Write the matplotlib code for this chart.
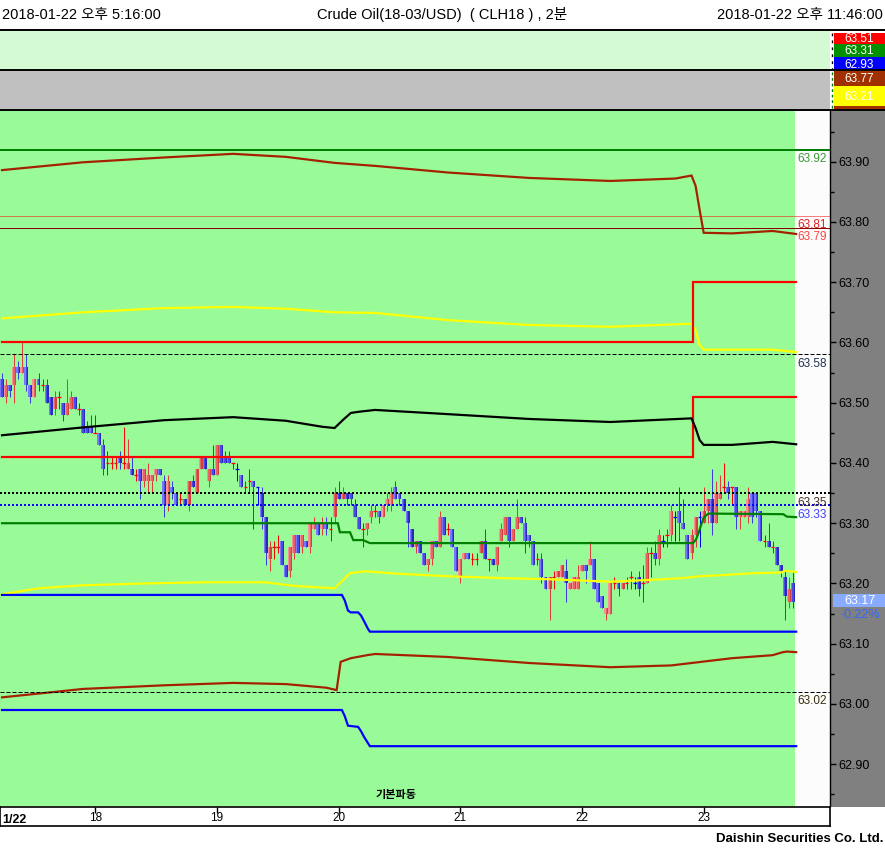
import matplotlib
matplotlib.use('Agg')
import matplotlib.pyplot as plt
from matplotlib.patches import Rectangle
from matplotlib.lines import Line2D

plt.rcParams['font.family'] = ['Liberation Sans', 'Noto Sans CJK KR', 'DejaVu Sans']

# ---------------- data ----------------
opens = [63.54,63.51,63.53,63.53,63.56,63.55,63.56,63.53,63.51,63.54,
         63.53,63.53,63.51,63.49,63.51,63.50,63.48,63.49,63.51,63.49,
         63.49,63.46,63.46,63.45,63.45,63.43,63.40,63.40,63.40,63.41,
         63.40,63.39,63.39,63.38,63.39,63.37,63.37,63.37,63.38,63.39,
         63.37,63.33,63.36,63.35,63.34,63.34,63.33,63.37,63.35,63.39,
         63.41,63.37,63.39,63.38,63.43,63.41,63.41,63.40,63.39,63.38,
         63.36,63.37,63.37,63.36,63.35,63.31,63.24,63.26,63.26,63.27,
         63.23,63.22,63.25,63.28,63.26,63.27,63.26,63.29,63.30,63.29,
         63.30,63.29,63.31,63.35,63.34,63.35,63.35,63.33,63.31,63.29,
         63.29,63.31,63.32,63.32,63.31,63.33,63.33,63.36,63.35,63.34,
         63.32,63.29,63.26,63.27,63.25,63.23,63.24,63.27,63.26,63.31,
         63.29,63.29,63.26,63.21,63.24,63.25,63.24,63.24,63.25,63.27,
         63.24,63.24,63.23,63.27,63.28,63.31,63.27,63.29,63.31,63.30,
         63.28,63.27,63.24,63.24,63.21,63.19,63.21,63.21,63.21,63.22,
         63.19,63.19,63.19,63.22,63.23,63.23,63.24,63.20,63.18,63.15,
         63.15,63.20,63.20,63.19,63.20,63.21,63.20,63.21,63.20,63.20,
         63.25,63.25,63.24,63.27,63.28,63.28,63.31,63.32,63.30,63.28,
         63.25,63.28,63.31,63.30,63.32,63.34,63.30,63.34,63.36,63.36,
         63.36,63.36,63.31,63.31,63.31,63.35,63.35,63.32,63.27,63.27,
         63.26,63.26,63.23,63.21,63.17,63.20]
highs = [63.55,63.54,63.53,63.58,63.57,63.60,63.58,63.53,63.54,63.55,
         63.54,63.54,63.51,63.52,63.52,63.50,63.54,63.52,63.51,63.50,
         63.49,63.47,63.48,63.48,63.45,63.44,63.42,63.41,63.41,63.42,
         63.46,63.44,63.41,63.39,63.39,63.39,63.40,63.38,63.39,63.39,
         63.38,63.38,63.37,63.35,63.35,63.34,63.37,63.38,63.39,63.41,
         63.41,63.39,63.43,63.43,63.43,63.42,63.42,63.40,63.40,63.38,
         63.37,63.39,63.37,63.36,63.36,63.31,63.27,63.27,63.28,63.27,
         63.23,63.26,63.28,63.28,63.28,63.27,63.30,63.31,63.30,63.31,
         63.31,63.31,63.36,63.37,63.36,63.35,63.35,63.34,63.31,63.30,
         63.30,63.33,63.33,63.32,63.33,63.35,63.36,63.37,63.35,63.34,
         63.32,63.29,63.27,63.27,63.25,63.24,63.27,63.27,63.32,63.31,
         63.30,63.29,63.26,63.24,63.25,63.25,63.25,63.25,63.27,63.29,
         63.24,63.24,63.26,63.30,63.31,63.31,63.29,63.34,63.31,63.31,
         63.28,63.27,63.25,63.25,63.21,63.21,63.22,63.22,63.23,63.24,
         63.20,63.21,63.23,63.23,63.23,63.27,63.24,63.20,63.18,63.16,
         63.20,63.21,63.20,63.20,63.21,63.22,63.21,63.22,63.23,63.26,
         63.26,63.27,63.29,63.28,63.29,63.33,63.32,63.36,63.34,63.28,
         63.29,63.31,63.32,63.36,63.34,63.39,63.37,63.38,63.40,63.37,
         63.36,63.36,63.32,63.32,63.36,63.35,63.35,63.32,63.28,63.30,
         63.27,63.26,63.23,63.22,63.21,63.22]
lows = [63.51,63.50,63.51,63.50,63.54,63.55,63.52,63.50,63.51,63.52,
        63.52,63.50,63.48,63.48,63.49,63.47,63.48,63.49,63.49,63.48,
        63.45,63.45,63.45,63.45,63.43,63.38,63.38,63.39,63.39,63.39,
        63.39,63.39,63.38,63.37,63.34,63.36,63.35,63.35,63.37,63.38,
        63.31,63.32,63.34,63.33,63.33,63.33,63.32,63.36,63.35,63.39,
        63.39,63.36,63.38,63.38,63.40,63.40,63.40,63.39,63.37,63.36,
        63.35,63.35,63.29,63.33,63.29,63.23,63.22,63.24,63.25,63.23,
        63.21,63.21,63.24,63.25,63.25,63.26,63.25,63.29,63.28,63.28,
        63.28,63.27,63.30,63.34,63.34,63.33,63.33,63.31,63.29,63.26,
        63.28,63.30,63.31,63.30,63.31,63.32,63.32,63.34,63.33,63.32,
        63.26,63.26,63.25,63.25,63.23,63.22,63.23,63.26,63.26,63.28,
        63.28,63.26,63.22,63.20,63.24,63.24,63.23,63.23,63.25,63.24,
        63.22,63.23,63.22,63.27,63.28,63.26,63.27,63.29,63.30,63.25,
        63.26,63.23,63.23,63.20,63.19,63.14,63.19,63.21,63.21,63.17,
        63.19,63.19,63.19,63.22,63.20,63.23,63.19,63.17,63.16,63.14,
        63.15,63.19,63.18,63.19,63.19,63.19,63.19,63.18,63.17,63.20,
        63.21,63.23,63.23,63.26,63.26,63.27,63.27,63.27,63.29,63.24,
        63.24,63.26,63.26,63.30,63.30,63.28,63.30,63.34,63.35,63.34,
        63.33,63.29,63.29,63.31,63.30,63.30,63.31,63.27,63.26,63.26,
        63.25,63.23,63.21,63.14,63.16,63.16]
closes = [63.51,63.53,63.52,63.56,63.55,63.56,63.53,63.51,63.54,63.53,
          63.53,63.50,63.48,63.51,63.51,63.48,63.50,63.51,63.49,63.49,
          63.45,63.45,63.45,63.45,63.43,63.39,63.40,63.40,63.40,63.40,
          63.40,63.40,63.38,63.38,63.37,63.39,63.38,63.38,63.39,63.38,
          63.33,63.37,63.35,63.33,63.34,63.33,63.37,63.36,63.39,63.41,
          63.39,63.39,63.38,63.43,63.40,63.40,63.40,63.40,63.39,63.36,
          63.36,63.37,63.36,63.36,63.31,63.25,63.26,63.26,63.26,63.23,
          63.21,63.26,63.28,63.25,63.28,63.26,63.30,63.30,63.28,63.30,
          63.29,63.29,63.35,63.34,63.35,63.34,63.34,63.31,63.29,63.29,
          63.30,63.32,63.32,63.31,63.33,63.34,63.35,63.34,63.34,63.32,
          63.30,63.26,63.27,63.25,63.23,63.24,63.27,63.26,63.31,63.28,
          63.29,63.26,63.22,63.24,63.25,63.24,63.24,63.24,63.27,63.24,
          63.24,63.23,63.26,63.29,63.31,63.27,63.29,63.31,63.30,63.27,
          63.27,63.23,63.24,63.21,63.19,63.21,63.21,63.22,63.23,63.20,
          63.20,63.21,63.21,63.23,63.22,63.24,63.19,63.17,63.16,63.16,
          63.20,63.20,63.19,63.20,63.20,63.21,63.20,63.19,63.20,63.25,
          63.25,63.24,63.28,63.27,63.28,63.32,63.31,63.30,63.29,63.24,
          63.28,63.31,63.31,63.32,63.34,63.30,63.35,63.35,63.36,63.35,
          63.36,63.31,63.32,63.32,63.34,63.31,63.32,63.27,63.27,63.26,
          63.26,63.23,63.22,63.18,63.19,63.17]
blue_doji = [58, 63, 156, 163, 166, 172]

# indicator curves (candle index, price)
brown_up_idx = [0, 20, 40, 57, 70, 82, 92, 110, 130, 150, 166, 170, 171, 172, 173, 180, 190, 195.8]
brown_up_val = [63.886, 63.899, 63.907, 63.913, 63.908, 63.898, 63.893, 63.882, 63.873, 63.868,
                63.872, 63.877, 63.86, 63.82, 63.782, 63.781, 63.785, 63.780]
yellow_up_idx = [0, 20, 40, 57, 70, 82, 92, 110, 130, 150, 170, 171, 172, 173, 180, 190, 195.8]
yellow_up_val = [63.640, 63.650, 63.657, 63.659, 63.656, 63.650, 63.649, 63.637, 63.629, 63.626,
                 63.631, 63.620, 63.596, 63.588, 63.588, 63.588, 63.584]
red_hi_idx = [0, 170.3, 170.3, 195.8]
red_hi_val = [63.60, 63.60, 63.70, 63.70]
red_lo_idx = [0, 170.3, 170.3, 195.8]
red_lo_val = [63.41, 63.41, 63.51, 63.51]
black_idx = [0, 20, 40, 57, 70, 79, 82, 84, 86, 88, 92, 110, 130, 150, 170, 171, 172, 173, 180, 190, 195.8]
black_val = [63.446, 63.459, 63.471, 63.476, 63.470, 63.460, 63.458, 63.471, 63.483, 63.485, 63.488,
             63.481, 63.473, 63.468, 63.474, 63.458, 63.438, 63.430, 63.430, 63.435, 63.431]
green_idx = [0, 82.8, 83.3, 85.8, 86.6, 89.0, 90.7, 170.4, 171.1, 171.8, 172.4, 173.0, 173.6, 174.2, 192.6, 193.5, 195.8]
green_val = [63.300, 63.300, 63.285, 63.285, 63.272, 63.272, 63.267, 63.267, 63.273, 63.285, 63.298,
             63.309, 63.313, 63.316, 63.315, 63.311, 63.310]
yellow_lo_idx = [0, 9, 20, 35, 50, 65, 72, 82, 83.8, 85.8, 87.8, 90, 98, 110, 123, 135, 150, 160,
                 168, 172, 178, 185, 192, 193, 194.5, 195.8]
yellow_lo_val = [63.182, 63.192, 63.197, 63.200, 63.202, 63.202, 63.196, 63.192, 63.204, 63.217,
                 63.219, 63.220, 63.216, 63.212, 63.209, 63.207, 63.203, 63.206, 63.209, 63.212,
                 63.214, 63.217, 63.218, 63.221, 63.220, 63.219]
blue_up_idx = [0, 83.8, 84.5, 85.3, 86.0, 87.8, 88.5, 89.3, 90.2, 90.7, 195.8]
blue_up_val = [63.181, 63.181, 63.172, 63.155, 63.152, 63.152, 63.147, 63.137, 63.125, 63.120, 63.120]
brown_lo_idx = [0, 20, 40, 57, 70, 80, 82.5, 83.5, 86, 90, 92, 110, 130, 150, 165, 180, 190, 192.5, 193.5, 195.8]
brown_lo_val = [63.011, 63.025, 63.031, 63.035, 63.033, 63.027, 63.023, 63.070, 63.076, 63.081, 63.083,
                63.078, 63.068, 63.061, 63.064, 63.076, 63.081, 63.086, 63.087, 63.086]
blue_lo_idx = [0, 83.8, 84.5, 85.3, 87.8, 88.5, 89.3, 90.7, 195.8]
blue_lo_val = [62.990, 62.990, 62.980, 62.964, 62.962, 62.955, 62.945, 62.930, 62.930]

# horizontal levels: (price, color, width px, dash pattern, label, label color)
levels = [
    (63.92, '#008000', 2, None, '63.92', '#3A9A3A'),
    (63.81, '#FF0000', 1, (1, 1), '63.81', '#E02020'),
    (63.79, '#8B0000', 1, None, '63.79', '#FF4040'),
    (63.58, '#000000', 1, (4, 2), '63.58', '#203050'),
    (63.35, '#000000', 2, (1, 1), '63.35', '#4A3020'),
    (63.33, '#0000FF', 2, (1, 1), '63.33', '#4040FF'),
    (63.02, '#000000', 1, (4, 2), '63.02', '#3A3010'),
]

ytick_vals = [62.90, 63.00, 63.10, 63.20, 63.30, 63.40, 63.50, 63.60, 63.70, 63.80, 63.90]
ytick_minor = [62.85, 62.95, 63.05, 63.15, 63.25, 63.35, 63.45, 63.55, 63.65, 63.75, 63.85, 63.95]
hours = [18, 19, 20, 21, 22, 23]
start_minute = 17 * 60 + 16
last_price = '63.17'
last_change = '-0.22%'

# ---------------- layout ----------------
W, H = 885, 851
fig = plt.figure(figsize=(W / 100, H / 100), dpi=100)
fig.patch.set_facecolor('white')

def box(x0, y0, x1, y1):
    return [x0 / W, 1 - y1 / H, (x1 - x0) / W, (y1 - y0) / H]

def fx(px):
    return px / W

def fy(py):
    return 1 - py / H

def frect(x0, y0, x1, y1, color, z=-1):
    fig.add_artist(Rectangle((fx(x0), fy(y1)), (x1 - x0) / W, (y1 - y0) / H,
                             transform=fig.transFigure, facecolor=color,
                             edgecolor='none', zorder=z))

# header texts
fig.text(fx(2), fy(15), '2018-01-22 오후 5:16:00', ha='left', va='center', fontsize=10.5)
fig.text(fx(442), fy(15), 'Crude Oil(18-03/USD)  ( CLH18 ) , 2분', ha='center', va='center', fontsize=10.5)
fig.text(fx(883), fy(15), '2018-01-22 오후 11:46:00', ha='right', va='center', fontsize=10.5)

# upper panels
frect(0, 30, 830, 70, '#D4FAD4')
frect(0, 70, 830, 110, '#C0C0C0')
for yy in (30, 70, 110):
    fig.add_artist(Line2D([0, 1], [fy(yy), fy(yy)], transform=fig.transFigure,
                          color='black', lw=1.4, zorder=3))

# label boxes in upper panels
pbox = [(33, 44, '#FF0000', '63.51'), (44, 57, '#009000', '63.31'), (57, 70, '#0000FF', '62.93'),
        (71, 86, '#A03000', '63.77'), (86, 106, '#FFFF00', '63.21'), (106, 110, '#A03000', '')]
for y0, y1, col, txt in pbox:
    frect(834, y0, 885, y1, col, z=1)
    if txt:
        fig.text(fx(859), fy((y0 + y1) / 2 + 1), txt, ha='center', va='center',
                 fontsize=8.5, color='white', zorder=2)
fig.add_artist(Line2D([fx(832), fx(832)], [fy(33), fy(69)], transform=fig.transFigure,
                      color='black', lw=1, dashes=(2, 3), zorder=2))
fig.add_artist(Line2D([fx(832), fx(832)], [fy(72), fy(109)], transform=fig.transFigure,
                      color='#008000', lw=1, dashes=(2, 2), zorder=2))

# gray price-axis area
frect(830, 111, 885, 807, '#808080', z=-1)

# ---------------- main chart ----------------
XS, X0 = 4.056, 2.0
xl = ((0 - X0) / XS, (830 - X0) / XS)
green_end = (795 - X0) / XS
ax = fig.add_axes(box(0, 111, 830, 806))
ax.set_xlim(*xl)
ax.set_ylim(62.8307, 63.9841)
ax.set_facecolor('#FCFCFC')
ax.axvspan(xl[0], green_end, color='#98FB98', zorder=0, lw=0)
for s in ('top', 'left', 'bottom'):
    ax.spines[s].set_visible(False)
ax.spines['right'].set_color('black')
ax.spines['right'].set_linewidth(1)
ax.set_xticks([])
ax.yaxis.tick_right()
ax.set_yticks(ytick_vals)
ax.set_yticklabels([f'{v:.2f}' for v in ytick_vals])
ax.set_yticks(ytick_minor, minor=True)
ax.tick_params(axis='y', which='major', direction='out', length=4, width=1,
               labelsize=9, pad=2, colors='black')
ax.tick_params(axis='y', which='minor', direction='out', length=3, width=1)

PX = 0.72  # points per pixel

# candles
red_cols = ['#F49494', '#E86464', '#D24040']
blue_cols = ['#7878FA', '#4A4AE8', '#2A2AB8']
for i in range(len(opens)):
    o, h, l, c = opens[i], highs[i], lows[i], closes[i]
    if c > o:
        cols, wcol = red_cols, '#E03C3C'
    elif c < o:
        cols, wcol = blue_cols, '#3C3CE0'
    else:
        wcol = '#0000FF' if i in blue_doji else '#FF0000'
        cols = None
    ax.vlines(i, l, h, colors=wcol, lw=PX, zorder=2)
    if cols is None:
        ax.hlines(o, i - 0.45, i + 0.45, colors=wcol, lw=PX * 1.3, zorder=2)
    else:
        ax.bar(i, abs(c - o), bottom=min(o, c), width=0.98, color=cols[1], lw=0,
               zorder=2.1)
        ax.bar(i - 0.33, abs(c - o), bottom=min(o, c), width=0.32, color=cols[0], lw=0,
               zorder=2.2)
        ax.bar(i + 0.33, abs(c - o), bottom=min(o, c), width=0.32, color=cols[2], lw=0,
               zorder=2.2)

# indicator curves
curves = [
    (brown_up_idx, brown_up_val, '#A52000'),
    (yellow_up_idx, yellow_up_val, '#FFFF00'),
    (red_hi_idx, red_hi_val, '#FF0000'),
    (red_lo_idx, red_lo_val, '#FF0000'),
    (black_idx, black_val, '#000000'),
    (green_idx, green_val, '#008000'),
    (yellow_lo_idx, yellow_lo_val, '#FFFF00'),
    (blue_up_idx, blue_up_val, '#0000FF'),
    (brown_lo_idx, brown_lo_val, '#A52000'),
    (blue_lo_idx, blue_lo_val, '#0000FF'),
]
for xs, ys, col in curves:
    ax.plot(xs, ys, color=col, lw=2.2 * PX, zorder=3, solid_joinstyle='miter')

# horizontal level lines with labels
label_x = (797 - X0) / XS
for val, col, wpx, dash, txt, tcol in levels:
    ln = ax.axhline(val, color=col, lw=wpx * PX, zorder=3.5)
    if dash is not None:
        ln.set_dashes(dash)
    ax.annotate(txt, xy=(label_x, val), xytext=(0, -2.5), textcoords='offset points',
                ha='left', va='top', fontsize=8.5, color=tcol, zorder=4)

# wave label
fig.text(fx(396), fy(795), '기본파동', ha='center', va='center', fontsize=8,
         fontweight='bold', color='black')

# last price box on the axis
frect(833, 594, 885, 607, '#88AAFF', z=5)
fig.text(fx(860), fy(600.5), last_price, ha='center', va='center', fontsize=9,
         color='white', zorder=6)
fig.text(fx(860), fy(615), last_change, ha='center', va='center', fontsize=9,
         color='#3366FF', zorder=6)

# ---------------- time strip ----------------
axs = fig.add_axes(box(0, 807, 830, 826))
axs.set_xlim(*xl)
axs.set_ylim(0, 1)
axs.set_yticks([])
axs.set_facecolor('white')
for s in axs.spines.values():
    s.set_color('black')
    s.set_linewidth(1.2)
tick_idx = [(h * 60 - start_minute) / 2 + 1 for h in hours]
axs.set_xticks(tick_idx)
axs.xaxis.set_ticks_position('top')
axs.tick_params(axis='x', direction='in', length=4, width=1, labeltop=False, labelbottom=False)
for h, t in zip(hours, tick_idx):
    axs.text(t, 0.4, str(h), ha='center', va='center', fontsize=8.5)
axs.text(xl[0] + 0.5, 0.3, '1/22', ha='left', va='center', fontsize=9, fontweight='bold')

# footer
fig.text(fx(883), fy(839), 'Daishin Securities Co. Ltd.', ha='right', va='center',
         fontsize=9.5, fontweight='bold')

fig.savefig('out.png', dpi=100)
